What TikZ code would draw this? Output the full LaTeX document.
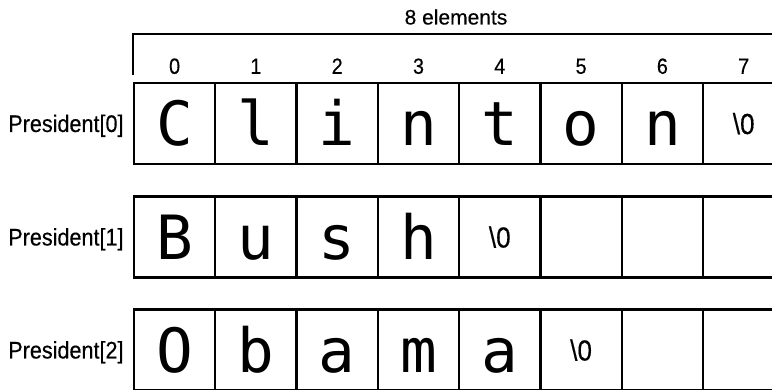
\documentclass[tikz,border=0pt]{standalone}
\usepackage{fontspec}
\setmainfont{Liberation Sans}[FakeBold=0.35]
\newfontfamily\cellfont{DejaVu Sans Mono}
\newfontfamily\narrowfont[FakeStretch=0.9,FakeBold=0.35]{Liberation Sans}

\usetikzlibrary{positioning}

\newcommand{\nulchar}{\textbackslash 0}

\begin{document}
\begin{tikzpicture}[x=1pt,y=1pt,
    every node/.style={inner sep=0pt},
    cell/.style={draw, line width=2.4pt, minimum width=81.3pt, minimum height=81pt,
        font=\fontsize{61}{61}\cellfont, text height=44.5pt, text depth=0pt},
    nul/.style={font=\fontsize{29}{29}\narrowfont, text height=21pt},
    rowlabel/.style={font=\fontsize{24}{24}\narrowfont, text height=17pt, text depth=0pt},
    idx/.style={font=\fontsize{22}{22}\narrowfont, anchor=base},
    bar/.style={line width=1.3pt}]
    \clip (0,0) rectangle (772,-390);

    % President[0]
    \foreach \ch [count=\i from 0] in {C,l,i,n,t,o,n}
        \node[cell] (a\i) at ({174.6+81.3*\i},-123.5) {\ch};
    \node[cell,nul] (a7) at ({174.6+81.3*7},-123.5) {\nulchar};

    % President[1]
    \foreach \ch [count=\i from 0] in {B,u,s,h}
        \node[cell] (b\i) at ({174.6+81.3*\i},-237) {\ch};
    \node[cell,nul] (b4) at ({174.6+81.3*4},-237) {\nulchar};
    \foreach \i in {5,6,7}
        \node[cell] (b\i) at ({174.6+81.3*\i},-237) {};

    % President[2]
    \foreach \ch [count=\i from 0] in {O,b,a,m,a}
        \node[cell] (c\i) at ({174.6+81.3*\i},-350) {\ch};
    \node[cell,nul] (c5) at ({174.6+81.3*5},-350) {\nulchar};
    \foreach \i in {6,7}
        \node[cell] (c\i) at ({174.6+81.3*\i},-350) {};

    \node[rowlabel, left=9pt of a0] (p0) {President[0]};
    \node[rowlabel, left=9pt of b0] (p1) {President[1]};
    \node[rowlabel, left=9pt of c0] (p2) {President[2]};

    % index numbers
    \foreach \i in {0,...,7}
        \node[idx] (n\i) at ([yshift=8pt]a\i.north) {\i};

    % bracket
    \coordinate (tickfoot) at (133,-75);
    \coordinate (barend) at (790,-34);
    \draw[bar] (tickfoot) |- (barend);
    \node[font=\fontsize{21}{21}\selectfont, anchor=base] (span) at (456,-24.5) {8 elements};
\end{tikzpicture}
\end{document}
